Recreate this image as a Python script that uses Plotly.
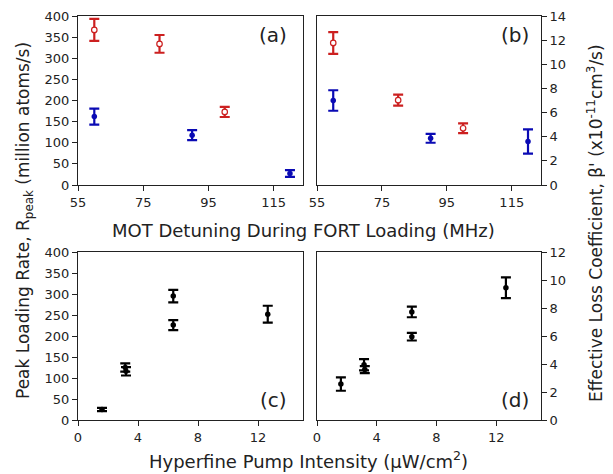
import plotly.graph_objects as go

# ---- data ----
det_red = [60, 80, 100]
rate_red = [367, 334, 173]
rate_red_err = [26, 21, 12]
det_blue = [60, 90, 120]
rate_blue = [162, 118, 27]
rate_blue_err = [19, 12, 8]

beta_red = [11.77, 7.03, 4.7]
beta_red_err = [0.9, 0.45, 0.4]
beta_blue = [7.0, 3.87, 3.6]
beta_blue_err = [0.85, 0.37, 1.0]

pump = [1.6, 3.15, 3.2, 6.35, 6.35, 12.65]
rate_pump = [25, 125, 116, 295, 226, 252]
rate_pump_err = [4, 10, 10, 15, 12, 20]
beta_pump = [2.57, 3.95, 3.6, 7.72, 5.95, 9.45]
beta_pump_err = [0.48, 0.4, 0.25, 0.38, 0.27, 0.74]

det_ticks = [55, 75, 95, 115]
pump_ticks = [0, 4, 8, 12]

RED = "#cc2020"
BLUE = "#0a0ab4"
BLACK = "#000000"
FONT = "DejaVu Sans"

# page body has an 8px margin; build the figure so it lands on the window
OFF = 8
W, H = 613 - OFF, 474 - OFF

def px_x(a, b):
    return [(a - OFF) / W, (b - OFF) / W]

def px_y(top, bottom):
    return [1 - (bottom - OFF) / H, 1 - (top - OFF) / H]

fig = go.Figure()

def add(x, y, err, color, xa, ya, open_marker=False):
    fig.add_trace(go.Scatter(
        x=x, y=y, mode="markers", xaxis=xa, yaxis=ya,
        marker=dict(color="white" if open_marker else color, size=5.5,
                    symbol="circle",
                    line=dict(color=color, width=1.2 if open_marker else 0)),
        error_y=dict(type="data", array=err, visible=True, color=color,
                     thickness=2.2, width=5),
        showlegend=False,
    ))

add(det_red, rate_red, rate_red_err, RED, "x", "y", True)
add(det_blue, rate_blue, rate_blue_err, BLUE, "x", "y")
add(det_red, beta_red, beta_red_err, RED, "x2", "y2", True)
add(det_blue, beta_blue, beta_blue_err, BLUE, "x2", "y2")
add(pump, rate_pump, rate_pump_err, BLACK, "x3", "y3")
add(pump, beta_pump, beta_pump_err, BLACK, "x4", "y4")

axis_common = dict(showline=True, linecolor="#222", linewidth=1, mirror=True,
                   ticks="outside", ticklen=5, tickwidth=1, tickcolor="#222",
                   showgrid=False, zeroline=False, automargin=False,
                   tickfont=dict(family=FONT, size=13, color="#222"))

fig.update_layout(
    width=W, height=H, autosize=False,
    margin=dict(l=0, r=0, t=0, b=0, autoexpand=False),
    paper_bgcolor="white", plot_bgcolor="white",
    font=dict(family=FONT, color="#222"),
    xaxis=dict(domain=px_x(78, 303), range=[55, 124], tickvals=det_ticks,
               anchor="y", **axis_common),
    yaxis=dict(domain=px_y(16, 185), range=[0, 400], dtick=50,
               anchor="x", **axis_common),
    xaxis2=dict(domain=px_x(317, 541), range=[55, 124], tickvals=det_ticks,
                anchor="y2", **axis_common),
    yaxis2=dict(domain=px_y(16, 185), range=[0, 14], dtick=2, side="right",
                anchor="x2", **axis_common),
    xaxis3=dict(domain=px_x(78, 303), range=[0, 15], tickvals=pump_ticks,
                anchor="y3", **axis_common),
    yaxis3=dict(domain=px_y(252, 420), range=[0, 400], dtick=50,
                anchor="x3", **axis_common),
    xaxis4=dict(domain=px_x(317, 541), range=[0, 15], tickvals=pump_ticks,
                anchor="y4", **axis_common),
    yaxis4=dict(domain=px_y(252, 420), range=[0, 12], dtick=2, side="right",
                anchor="x4", **axis_common),
)

def label(text, x, y, size=16, angle=0):
    fig.add_annotation(text=text, x=(x - OFF) / W, y=1 - (y - OFF) / H,
                       xref="paper", yref="paper",
                       showarrow=False, textangle=angle,
                       font=dict(family=FONT, size=size, color="#222"),
                       xanchor="center", yanchor="middle")

label("(a)", 273, 35, 20)
label("(b)", 515, 35, 20)
label("(c)", 273, 400, 20)
label("(d)", 515, 400, 20)

label("MOT Detuning During FORT Loading (MHz)", 303, 230, 18)
label("Hyperfine Pump Intensity (μW/cm<sup>2</sup>)", 308, 460, 18)
label("Peak Loading Rate, R<sub>peak</sub> (million atoms/s)", 24, 221, 17, -90)
label("Effective Loss Coefficient, β' (x10<sup>-11</sup>cm<sup>3</sup>/s)", 595, 223, 17, -90)

fig.write_html("out.html")
